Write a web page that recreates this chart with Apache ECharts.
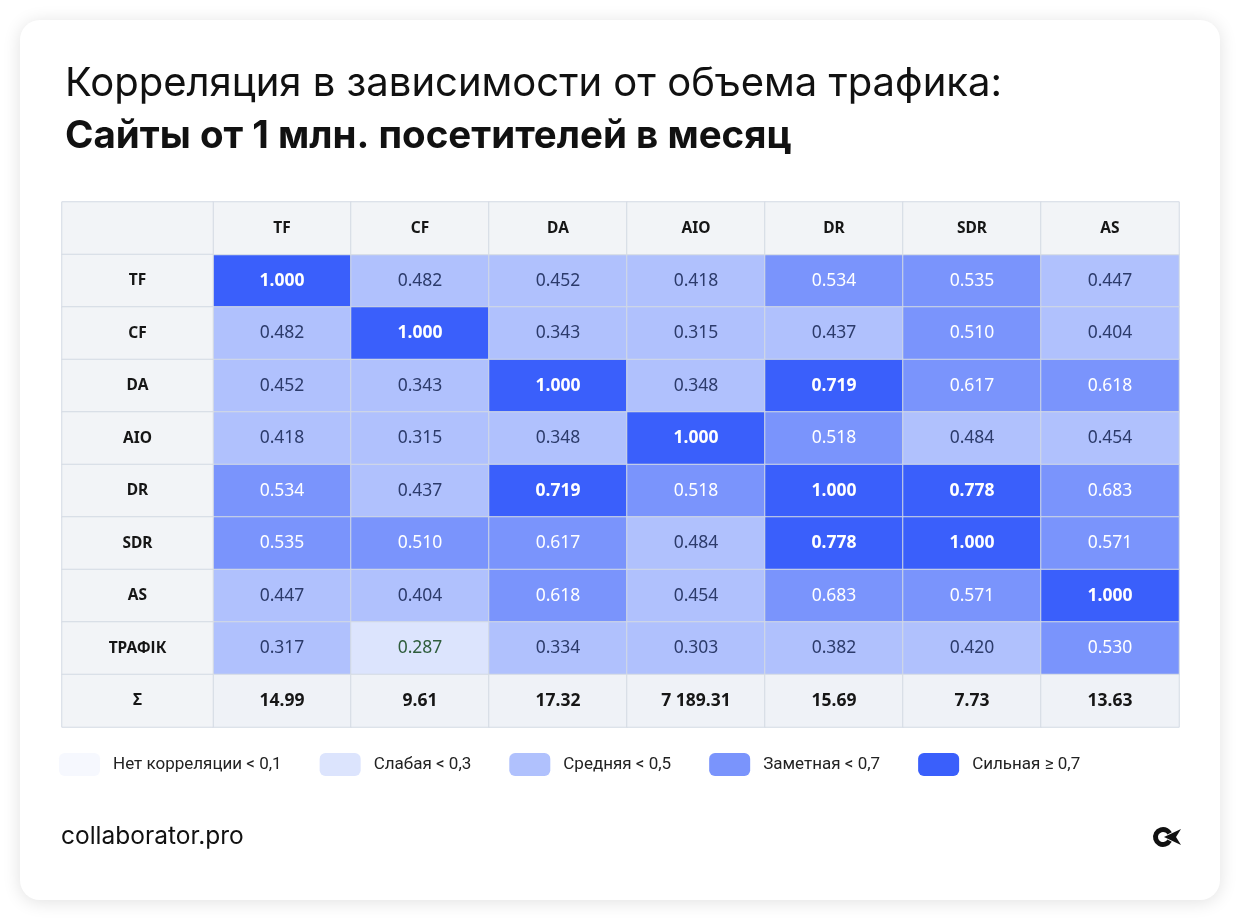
<!DOCTYPE html>
<html>
<head>
<meta charset="utf-8">
<script src="https://cdn.jsdelivr.net/npm/echarts@6/dist/echarts.min.js"></script>
<style>
  html, body { margin: 0; padding: 0; background: #ffffff; }
  #main { width: 1240px; height: 920px; }
</style>
</head>
<body>
<div id="main"></div>
<script>
// table data
var columns = ["TF", "CF", "DA", "AIO", "DR", "SDR", "AS"];
var rowNames = ["TF", "CF", "DA", "AIO", "DR", "SDR", "AS", "ТРАФІК"];
var tfRow = [1.000, 0.482, 0.452, 0.418, 0.534, 0.535, 0.447];
var cfRow = [0.482, 1.000, 0.343, 0.315, 0.437, 0.510, 0.404];
var daRow = [0.452, 0.343, 1.000, 0.348, 0.719, 0.617, 0.618];
var aioRow = [0.418, 0.315, 0.348, 1.000, 0.518, 0.484, 0.454];
var drRow = [0.534, 0.437, 0.719, 0.518, 1.000, 0.778, 0.683];
var sdrRow = [0.535, 0.510, 0.617, 0.484, 0.778, 1.000, 0.571];
var asRow = [0.447, 0.404, 0.618, 0.454, 0.683, 0.571, 1.000];
var trafficRow = [0.317, 0.287, 0.334, 0.303, 0.382, 0.420, 0.530];
var sumRow = [14.99, 9.61, 17.32, 7189.31, 15.69, 7.73, 13.63];

var rows = [tfRow, cfRow, daRow, aioRow, drRow, sdrRow, asRow, trafficRow];
var yCats = ["head"].concat(rowNames, ["Σ"]);
var lastRow = yCats.length - 1;

function fmtSum(v) {
  var parts = v.toFixed(2).split(".");
  return parts[0].replace(/\B(?=(\d{3})+(?!\d))/g, " ") + "." + parts[1];
}

function cellLabel(v) {
  if (v >= 0.7) return { color: "#ffffff", fontWeight: "bold" };
  if (v >= 0.5) return { color: "#ffffff", fontWeight: "normal" };
  if (v >= 0.3) return { color: "#2c3b6b", fontWeight: "normal" };
  return { color: "#2f5d3c", fontWeight: "normal" };
}

var corrData = [];
rows.forEach(function (row, r) {
  row.forEach(function (v, c) {
    corrData.push({ value: [c, r + 1, v], label: cellLabel(v) });
  });
});

var headData = columns.map(function (name, c) {
  return { value: [c, 0, 0], name: name };
});
var sumData = sumRow.map(function (v, c) {
  return { value: [c, lastRow, v], name: fmtSum(v) };
});
var sideData = yCats.map(function (name, r) {
  return { value: [0, r, 0], name: name === "head" ? "" : name };
});

var cellFont = "'Noto Sans', 'Open Sans', sans-serif";

function frameSeries(data, xi, bg, size) {
  return {
    type: "heatmap", xAxisIndex: xi, yAxisIndex: xi,
    data: data,
    itemStyle: { color: bg, borderColor: "#d3dae3", borderWidth: 1 },
    label: {
      show: true, fontFamily: cellFont, fontWeight: "bold", fontSize: size, color: "#161616",
      formatter: function (p) { return p.name; }
    },
    emphasis: { disabled: true }
  };
}

var myChart = echarts.init(document.getElementById("main"));
var option = {
  animation: false,
  title: {
    left: 60, top: 59,
    text: "Корреляция в зависимости от объема трафика:",
    subtext: "Сайты от 1 млн. посетителей в месяц",
    itemGap: 13,
    textStyle: { fontFamily: "Inter", fontSize: 40, fontWeight: 400, color: "#111111" },
    subtextStyle: { fontFamily: "Inter", fontSize: 38.5, fontWeight: 700, color: "#111111" }
  },
  graphic: [
    {
      type: "rect", z: -10, silent: true,
      shape: { x: 20, y: 20, width: 1200, height: 880, r: 20 },
      style: { fill: "#ffffff", shadowBlur: 18, shadowColor: "rgba(0,0,0,0.12)", shadowOffsetY: 2 }
    },
    {
      type: "text", left: 61, top: 824, silent: true,
      style: { text: "collaborator.pro", font: "400 24.5px Inter", fill: "#111111" }
    },
    {
      type: "arc", silent: true,
      shape: { cx: 1163, cy: 837, r: 7.5, startAngle: 0.5, endAngle: 2 * Math.PI - 0.5 },
      style: { stroke: "#111111", lineWidth: 5, fill: null }
    },
    {
      type: "polygon", silent: true,
      shape: { points: [[1164, 837], [1181, 829], [1176, 837], [1181, 845]] },
      style: { fill: "#111111" }
    }
  ],
  grid: [
    { left: 62, top: 202, width: 151, height: 525 },
    { left: 213, top: 202, width: 966, height: 525 }
  ],
  xAxis: [
    { type: "category", gridIndex: 0, data: [""], show: false },
    { type: "category", gridIndex: 1, data: columns, show: false }
  ],
  yAxis: [
    { type: "category", gridIndex: 0, data: yCats, inverse: true, show: false },
    { type: "category", gridIndex: 1, data: yCats, inverse: true, show: false }
  ],
  visualMap: {
    type: "piecewise",
    seriesIndex: 0,
    orient: "horizontal",
    left: 59, top: 753, padding: 0,
    itemWidth: 41, itemHeight: 23,
    itemSymbol: "roundRect",
    itemGap: 38, textGap: 13,
    selectedMode: false, hoverLink: false,
    textStyle: { fontFamily: "Roboto", fontSize: 17, color: "#222222" },
    pieces: [
      { gte: 0, lt: 0.1, label: "Нет корреляции < 0,1", color: "#f6f8fe" },
      { gte: 0.1, lt: 0.3, label: "Слабая < 0,3", color: "#dce4fd" },
      { gte: 0.3, lt: 0.5, label: "Средняя < 0,5", color: "#b0c1fd" },
      { gte: 0.5, lt: 0.7, label: "Заметная < 0,7", color: "#7a94fc" },
      { gte: 0.7, label: "Сильная ≥ 0,7", color: "#3a5ffb" }
    ]
  },
  series: [
    {
      type: "heatmap", xAxisIndex: 1, yAxisIndex: 1,
      data: corrData,
      itemStyle: { borderColor: "#d3dae3", borderWidth: 1 },
      label: {
        show: true, fontFamily: cellFont, fontSize: 17.5,
        formatter: function (p) { return p.value[2].toFixed(3); }
      },
      emphasis: { disabled: true }
    },
    frameSeries(headData, 1, "#f2f4f7", 15.5),
    frameSeries(sumData, 1, "#eff2f7", 17.5),
    frameSeries(sideData, 0, "#f2f4f7", 15.5)
  ]
};
myChart.setOption(option);
</script>
</body>
</html>
